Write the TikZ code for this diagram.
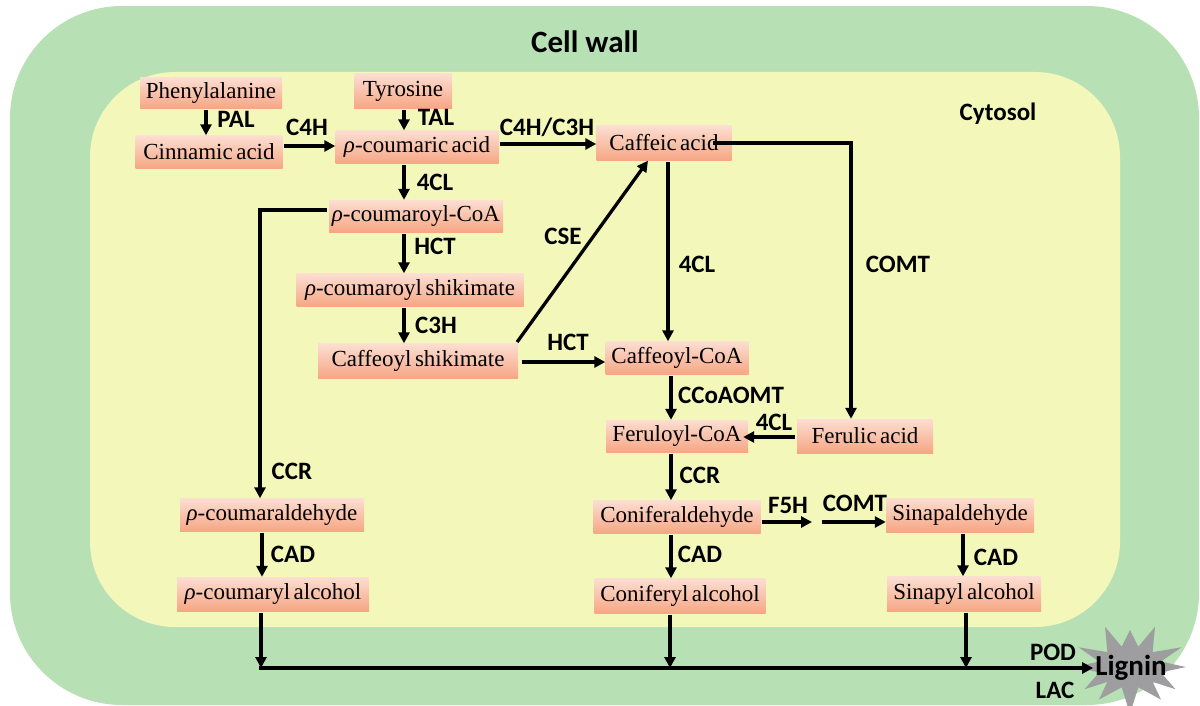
\documentclass[tikz,border=0pt]{standalone}
\usepackage{fontspec}
\setmainfont{Liberation Serif}[WordSpace={0.6}]
\newfontfamily\enzfont{Carlito}
\usetikzlibrary{arrows.meta}
\definecolor{wallgreen}{RGB}{183,224,180}
\definecolor{cytoyellow}{RGB}{243,248,186}
\definecolor{boxtop}{RGB}{252,222,210}
\definecolor{boxbot}{RGB}{246,166,132}
\definecolor{stargray}{RGB}{158,158,160}
\begin{document}
\begin{tikzpicture}[x=1pt,y=-1pt,
  box/.style={shade, top color=boxtop, bottom color=boxbot, inner sep=0pt,
    minimum height=33pt, font=\fontsize{23}{27}\selectfont, text=black},
  enz/.style={font=\enzfont\bfseries\fontsize{25}{29}\selectfont, inner sep=0pt},
  arr/.style={line width=3.3pt, shorten <=1.5pt, -{Triangle[length=11pt,width=11pt]}}]
\useasboundingbox (0,0) rectangle (1200,706);
% compartments
\fill[wallgreen, rounded corners=112pt] (10,6) rectangle (1199,705);
\fill[cytoyellow, rounded corners=85pt] (90,72) rectangle (1120,627);
\node[enz, font=\enzfont\bfseries\fontsize{31}{35}\selectfont] (cellwall) at (585,42) {Cell wall};
\node[enz] (cytosol) at (998,114) {Cytosol};
% metabolites
\node[box, minimum width=142pt, minimum height=31pt] (phe) at (211,93) {Phenylalanine};
\node[box, minimum width=98pt, minimum height=35pt] (tyr) at (403,91) {Tyrosine};
\node[box, minimum width=147pt] (cin) at (209,152) {Cinnamic acid};
\node[box, minimum width=163pt] (pca) at (417,147) {\textit{ρ}-coumaric acid};
\node[box, minimum width=135pt, minimum height=35pt] (caf) at (664,143) {Caffeic acid\hspace{12pt}};
\node[box, minimum width=174pt, minimum height=32pt] (pcoa) at (416,216) {\textit{ρ}-coumaroyl-CoA};
\node[box, minimum width=227pt] (pcs) at (410,290) {\textit{ρ}-coumaroyl shikimate};
\node[box, minimum width=200pt, minimum height=35pt] (cfs) at (418,361) {Caffeoyl shikimate};
\node[box, minimum width=143pt] (cfcoa) at (677,358) {Caffeoyl-CoA};
\node[box, minimum width=142pt, minimum height=32pt] (frcoa) at (677,436) {Feruloyl-CoA};
\node[box, minimum width=136pt, minimum height=34pt] (fer) at (865,436) {Ferulic acid};
\node[box, minimum width=184pt] (pald) at (272,515) {\textit{ρ}-coumaraldehyde};
\node[box, minimum width=167pt] (cald) at (677,517) {Coniferaldehyde};
\node[box, minimum width=148pt, minimum height=34pt] (sald) at (960,515) {Sinapaldehyde};
\node[box, minimum width=192pt, minimum height=34pt] (palc) at (273,594) {\textit{ρ}-coumaryl alcohol};
\node[box, minimum width=171pt, minimum height=35pt] (calc) at (680,596) {Coniferyl alcohol};
\node[box, minimum width=154pt, minimum height=35pt] (salc) at (964,594) {Sinapyl alcohol};
% lignin star
\fill[stargray] plot[samples at={0,15,...,345}, variable=\t]
  ({1130 + ((mod(\t,30)==0) ? (56+7*sin(7*\t)) : 32)*cos(\t)},
   {667 + ((mod(\t,30)==0) ? (42+5*sin(5*\t)) : 21)*sin(\t)}) -- cycle;
\node[enz, font=\enzfont\bfseries\fontsize{29}{33}\selectfont, inner sep=2pt] (lignin) at (1131,668) {Lignin};
% connectors
\coordinate (mid) at (816,522);
\coordinate (bl) at (261,668);
\draw[arr] (206,0 |- phe.south) -- (206,0 |- cin.north);
\draw[arr] (404,0 |- tyr.south) -- (404,0 |- pca.north);
\draw[arr] (cin.east |- 0,146) -- (pca.west |- 0,146);
\draw[arr] (pca.east |- 0,144) -- (caf.west |- 0,144);
\draw[arr] (404,0 |- pca.south) -- (404,0 |- pcoa.north);
\draw[arr] (404,0 |- pcoa.south) -- (404,0 |- pcs.north);
\draw[arr] (404,0 |- pcs.south) -- (404,0 |- cfs.north);
\draw[arr] ([xshift=-2pt]cfs.north east) -- ([xshift=-16pt]caf.south);
\draw[arr, shorten <=4pt] (cfs.east |- 0,362) -- (cfcoa.west |- 0,362);
\draw[arr] (668,0 |- caf.south) -- (668,0 |- cfcoa.north);
\draw[arr] ([xshift=-20pt]caf.east) -| (851,0 |- fer.north);
\draw[arr] (671,0 |- cfcoa.south) -- (671,0 |- frcoa.north);
\draw[arr] (fer.west |- 0,437) -- ([xshift=-5pt]frcoa.east |- 0,437);
\draw[arr] (671,0 |- frcoa.south) -- (671,0 |- cald.north);
\draw[arr] (cald.east |- mid) -- ([xshift=-4pt]mid);
\draw[arr] ([xshift=4pt]mid) -- (sald.west |- mid);
\draw[arr] (671,0 |- cald.south) -- (671,0 |- calc.north);
\draw[arr] (963,0 |- sald.south) -- (963,0 |- salc.north);
\draw[arr] (pcoa.west |- 0,210) -| (260,0 |- pald.north);
\draw[arr] (262,0 |- pald.south) -- (262,0 |- palc.north);
\draw[arr] (261,0 |- palc.south) -- (bl);
\draw[arr] (670,0 |- calc.south) -- (670,0 |- bl);
\draw[arr] (966,0 |- salc.south) -- (966,0 |- bl);
\draw[arr, shorten <=0pt] ([xshift=-1.65pt]bl) -- (lignin.west);
% enzyme labels
\node[enz] (lpal) at (236,119) {PAL};
\node[enz] (ltal) at (436,117) {TAL};
\node[enz] (lc4h) at (307,127) {C4H};
\node[enz] (lc4c3) at (547,127) {C4H/C3H};
\node[enz] (l4cla) at (435,182) {4CL};
\node[enz] (lhcta) at (435,246) {HCT};
\node[enz] (lc3h) at (436,325) {C3H};
\node[enz] (lcse) at (563,236) {CSE};
\node[enz] (lhctb) at (568,342) {HCT};
\node[enz] (l4clb) at (697,264) {4CL};
\node[enz] (lcomta) at (898,264) {COMT};
\node[enz] (lccoaomt) at (731,395) {CCoAOMT};
\node[enz] (l4clc) at (774,422) {4CL};
\node[enz] (lccra) at (700,475) {CCR};
\node[enz] (lf5h) at (788,505) {F5H};
\node[enz] (lcomtb) at (855,503) {COMT};
\node[enz] (lcada) at (700,554) {CAD};
\node[enz] (lcadb) at (996,557) {CAD};
\node[enz] (lccrb) at (292,471) {CCR};
\node[enz] (lcadc) at (293,554) {CAD};
\node[enz] (lpod) at (1053,652) {POD};
\node[enz] (llac) at (1055,690) {LAC};
\end{tikzpicture}
\end{document}
